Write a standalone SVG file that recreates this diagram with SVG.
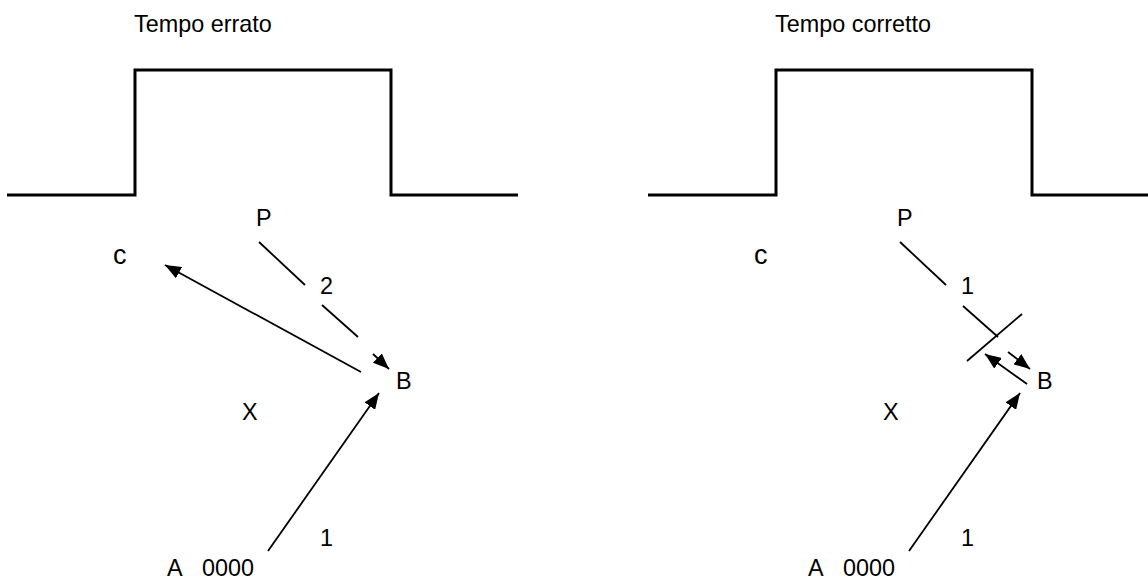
<svg xmlns="http://www.w3.org/2000/svg" width="1148" height="583" viewBox="0 0 1148 583">
<style>
text{font-family:"Liberation Sans",Arial,sans-serif;font-size:23.4px;fill:#000}
.big{font-size:27px}
.pulse{fill:none;stroke:#000;stroke-width:3}
.ln{fill:none;stroke:#000;stroke-width:1.8}
.ar{fill:none;stroke:#000;stroke-width:1.8;marker-end:url(#ah)}
</style>
<defs>
<marker id="ah" markerUnits="userSpaceOnUse" markerWidth="17" markerHeight="13" refX="16" refY="6.5" orient="auto">
<path d="M0,0 L16,6.5 L0,13 Z" fill="#000"/>
</marker>
</defs>
<rect width="1148" height="583" fill="#fff"/>
<g id="left-panel">
<g id="title-left"><text x="134" y="32">Tempo errato</text></g>
<g id="pulse-left"><path class="pulse" d="M7,195 H135 V70 H391 V195 H518"/></g>
<g id="P-left"><text x="256" y="226">P</text></g>
<g id="C-left"><text class="big" x="113" y="264">c</text></g>
<g id="B-left"><text x="396" y="389">B</text></g>
<g id="X-left"><text x="242" y="420">X</text></g>
<g id="A-left"><text x="167" y="576">A</text><text x="202" y="576">0000</text></g>
<g id="labels-left"><text x="320" y="294">2</text><text x="320" y="546">1</text></g>
</g>
<g id="right-panel">
<g id="title-right"><text x="775" y="32">Tempo corretto</text></g>
<g id="pulse-right"><path class="pulse" d="M648,195 H776 V70 H1032 V195 H1159"/></g>
<g id="P-right"><text x="897" y="226">P</text></g>
<g id="C-right"><text class="big" x="754" y="264">c</text></g>
<g id="B-right"><text x="1037" y="389">B</text></g>
<g id="X-right"><text x="883" y="420">X</text></g>
<g id="A-right"><text x="808" y="576">A</text><text x="843" y="576">0000</text></g>
<g id="labels-right"><text x="961" y="294">1</text><text x="961" y="546">1</text></g>
</g>
<g id="connectors">
<line class="ln" x1="259" y1="242" x2="305" y2="285"/>
<line class="ln" x1="322" y1="305" x2="358" y2="337"/>
<line class="ar" x1="373" y1="354" x2="389" y2="369"/>
<line class="ar" x1="361" y1="372" x2="165" y2="265"/>
<line class="ar" x1="268" y1="551" x2="379" y2="393"/>
<line class="ln" x1="900" y1="242" x2="946" y2="285"/>
<line class="ln" x1="963" y1="306" x2="998" y2="337"/>
<line class="ln" x1="967" y1="361" x2="1022" y2="314"/>
<line class="ar" x1="1008" y1="352" x2="1030" y2="369"/>
<line class="ar" x1="1027" y1="384" x2="985" y2="354"/>
<line class="ar" x1="909" y1="551" x2="1020" y2="393"/>
</g>
</svg>
